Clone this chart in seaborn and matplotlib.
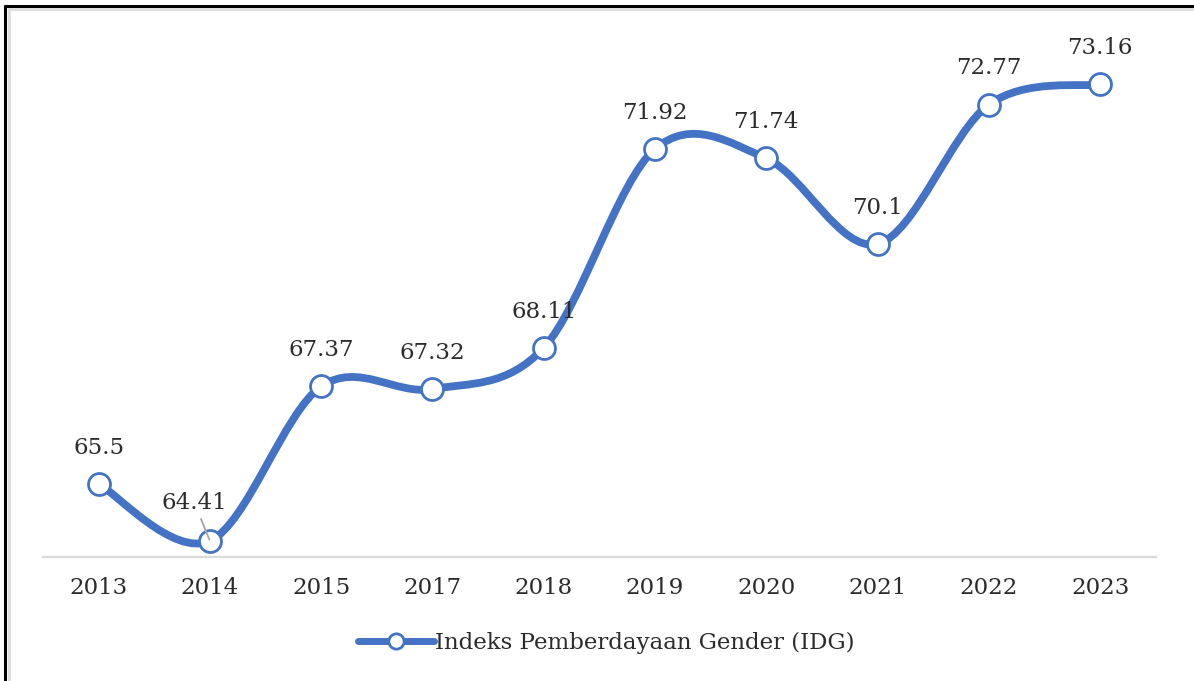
import numpy as np
import matplotlib.pyplot as plt
import seaborn as sns
from matplotlib.path import Path
from matplotlib.patches import PathPatch
from matplotlib.lines import Line2D

# DATA
tahun = ["2013", "2014", "2015", "2017", "2018", "2019", "2020", "2021", "2022", "2023"]
idg = [65.5, 64.41, 67.37, 67.32, 68.11, 71.92, 71.74, 70.1, 72.77, 73.16]
label_idg = ["65.5", "64.41", "67.37", "67.32", "68.11", "71.92", "71.74", "70.1", "72.77", "73.16"]
nama_seri = "Indeks Pemberdayaan Gender (IDG)"

BIRU = "#4472C4"
TEKS = "#2b2b2b"
FS = 16.5

sns.set_theme(style="white")
plt.rcParams["font.family"] = ["DejaVu Serif"]

fig = plt.figure(figsize=(11.94, 6.81), dpi=100)
ax = fig.add_axes([0.036, 0.182, 0.932, 0.774])

x = np.arange(len(tahun))
y = np.array(idg)
n = len(x)

# garis halus ala Excel (kurva Bezier melalui setiap titik)
verts = [(x[0], y[0])]
codes = [Path.MOVETO]
for i in range(n - 1):
    p0 = np.array([x[max(i - 1, 0)], y[max(i - 1, 0)]])
    p1 = np.array([x[i], y[i]])
    p2 = np.array([x[i + 1], y[i + 1]])
    p3 = np.array([x[min(i + 2, n - 1)], y[min(i + 2, n - 1)]])
    c1 = p1 + (p2 - p0) / 6
    c2 = p2 - (p3 - p1) / 6
    verts += [tuple(c1), tuple(c2), tuple(p2)]
    codes += [Path.CURVE4] * 3
ax.add_patch(PathPatch(Path(verts, codes), fill=False, edgecolor=BIRU, lw=5.6,
                       capstyle="round", joinstyle="round", zorder=2))

# titik penanda
sns.scatterplot(x=x, y=y, ax=ax, s=250, color="white", edgecolor=BIRU,
                linewidth=2, zorder=3, legend=False)

# label nilai
for i, (xi, yi, lab) in enumerate(zip(x, y, label_idg)):
    if tahun[i] == "2014":
        ax.annotate(lab, xy=(xi, yi), xytext=(-11, 27), textcoords="offset points",
                    ha="center", va="center", fontsize=FS, color=TEKS,
                    arrowprops=dict(arrowstyle="-", color="#a6a6a6", lw=1.3,
                                    shrinkA=1, shrinkB=1), zorder=4)
    else:
        ax.annotate(lab, xy=(xi, yi), xytext=(0, 26), textcoords="offset points",
                    ha="center", va="center", fontsize=FS, color=TEKS, zorder=4)

ax.set_xlim(-0.5, n - 0.5)
ax.set_ylim(64.1, 74.2)
ax.set_xticks(x)
ax.set_xticklabels(tahun, fontsize=FS, color=TEKS)
ax.set_yticks([])
ax.tick_params(axis="x", length=0, pad=14)
for s in ["left", "right", "top"]:
    ax.spines[s].set_visible(False)
ax.spines["bottom"].set_color("#d9d9d9")
ax.spines["bottom"].set_linewidth(1.6)
ax.set_xlabel("")
ax.set_ylabel("")

# legenda
handle = Line2D([], [], color=BIRU, lw=5, marker="o", markersize=11,
                markerfacecolor="white", markeredgecolor=BIRU, markeredgewidth=2)
fig.legend([handle], [nama_seri], loc="center", bbox_to_anchor=(0.508, 0.056),
           frameon=False, fontsize=FS, handlelength=3.3, handletextpad=0.05,
           labelcolor=TEKS)

# bingkai
fig.add_artist(Line2D([0.0045, 0.0045], [0, 0.991], transform=fig.transFigure, color="black", lw=2.2))
fig.add_artist(Line2D([0.0045, 1], [0.991, 0.991], transform=fig.transFigure, color="black", lw=2.2))
fig.add_artist(Line2D([0.0075, 0.0075], [0, 0.987], transform=fig.transFigure, color="#dddddd", lw=2))
fig.add_artist(Line2D([0.0075, 1], [0.987, 0.987], transform=fig.transFigure, color="#dddddd", lw=2))

fig.savefig("out.png", dpi=100, facecolor="white")
